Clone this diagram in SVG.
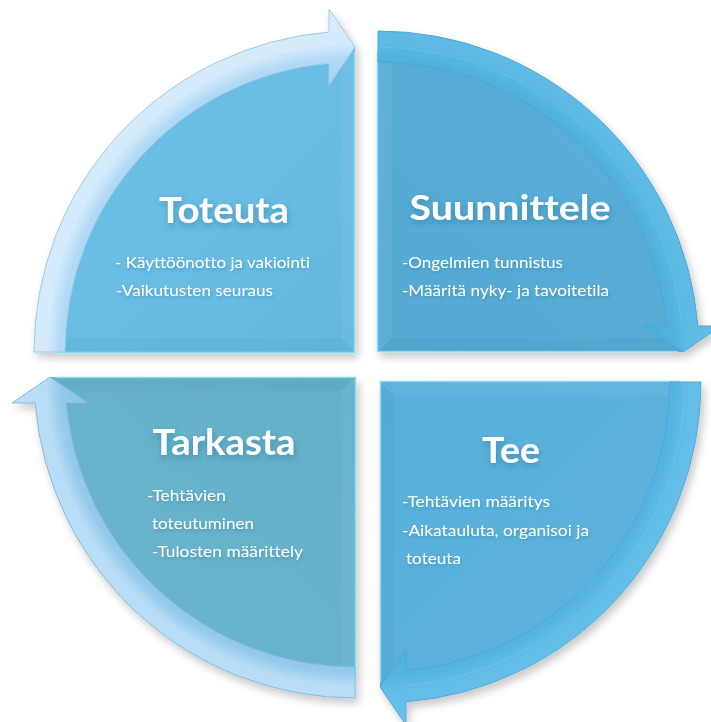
<svg xmlns="http://www.w3.org/2000/svg" width="711" height="722" viewBox="0 0 711 722">
  <style>
    text { font-variant-ligatures: none; }
    .title { font-family: Lato, "Open Sans", "Liberation Sans", sans-serif; font-weight: 700; fill: #ffffff; filter: url(#textShadow); }
    .body { font-family: Lato, "Open Sans", "Liberation Sans", sans-serif; font-size: 16px; fill: #ffffff; filter: url(#textShadowSoft); }
    .edge { fill: none; stroke: #86daf6; stroke-width: 1.5; }
    .lite { fill: #ffffff; fill-opacity: 0.05; }
    .dark { fill: #000000; fill-opacity: 0.025; }
    .bandEdge { fill: none; stroke-width: 1; stroke-opacity: 0.6; }
  </style>
  <defs>
    <filter id="shadow" x="-10%" y="-10%" width="130%" height="130%">
      <feDropShadow dx="3" dy="5" stdDeviation="4" flood-color="#000000" flood-opacity="0.22"/>
    </filter>
    <filter id="textShadow" x="-10%" y="-20%" width="130%" height="160%">
      <feDropShadow dx="1" dy="3" stdDeviation="3" flood-color="#1b4d6b" flood-opacity="0.35"/>
    </filter>
    <filter id="textShadowSoft" x="-10%" y="-30%" width="130%" height="180%">
      <feDropShadow dx="1" dy="2" stdDeviation="1.5" flood-color="#1b4d6b" flood-opacity="0.25"/>
    </filter>

    <!-- quarter disc, corner at origin, opening toward upper-left -->
    <path id="sector" d="M0,0 L-305,0 A305,305 0 0 1 0,-305 Z"/>
    <!-- bevel strips along the two straight edges -->
    <path id="stripV" d="M0,0 L0,-300 L-14,-299.7 L-14,-14 Z"/>
    <path id="stripH" d="M0,0 L-14,-14 L-299.7,-14 L-300,0 Z"/>
    <path id="edges" d="M-300,0.5 L-0.5,0.5 L-0.5,-300"/>
    <!-- curved arrow band ending in a head at the top -->
    <path id="band" d="M-321,0 A321,321 0 0 1 -26,-319.9 L-26,-343 L0,-305 L-26,-267 L-26,-288.8 A290,290 0 0 0 -290,0 Z"/>
    <path id="bandMid" d="M-305,0 A305,305 0 0 1 -26,-303.9"/>

    <radialGradient id="bandTL" cx="0" cy="0" r="343" gradientUnits="userSpaceOnUse">
      <stop offset="0.78" stop-color="#a6d3f1"/>
      <stop offset="0.86" stop-color="#b2daf4"/>
      <stop offset="0.90" stop-color="#d6ebfb"/>
      <stop offset="1" stop-color="#d6ebfb"/>
    </radialGradient>
    <radialGradient id="bandTR" cx="0" cy="0" r="343" gradientUnits="userSpaceOnUse">
      <stop offset="0.78" stop-color="#4aaedc"/>
      <stop offset="0.86" stop-color="#52b2de"/>
      <stop offset="0.90" stop-color="#5cbae5"/>
      <stop offset="1" stop-color="#63bde6"/>
    </radialGradient>
    <radialGradient id="bandBR" cx="0" cy="0" r="343" gradientUnits="userSpaceOnUse">
      <stop offset="0.78" stop-color="#4eb0de"/>
      <stop offset="0.86" stop-color="#56b5e2"/>
      <stop offset="0.90" stop-color="#62bde8"/>
      <stop offset="1" stop-color="#6ac1ea"/>
    </radialGradient>
    <radialGradient id="bandBL" cx="0" cy="0" r="343" gradientUnits="userSpaceOnUse">
      <stop offset="0.78" stop-color="#86c2e6"/>
      <stop offset="0.86" stop-color="#94caec"/>
      <stop offset="0.90" stop-color="#b7dcf6"/>
      <stop offset="1" stop-color="#bde0f8"/>
    </radialGradient>

    <linearGradient id="fillTL" x1="0" y1="0" x2="1" y2="1">
      <stop offset="0" stop-color="#6fc1e6"/>
      <stop offset="1" stop-color="#64b8df"/>
    </linearGradient>
    <linearGradient id="fillTR" x1="0" y1="0" x2="1" y2="1">
      <stop offset="0" stop-color="#5cafd8"/>
      <stop offset="1" stop-color="#55a9d3"/>
    </linearGradient>
    <linearGradient id="fillBR" x1="0" y1="0" x2="1" y2="1">
      <stop offset="0" stop-color="#5db4de"/>
      <stop offset="1" stop-color="#58b0db"/>
    </linearGradient>
    <linearGradient id="fillBL" x1="0" y1="0" x2="1" y2="1">
      <stop offset="0" stop-color="#6ab6ce"/>
      <stop offset="1" stop-color="#63b0c9"/>
    </linearGradient>
  </defs>

  <rect width="711" height="722" fill="#ffffff"/>

  <!-- Toteuta (top-left) -->
  <g id="toteuta">
    <g filter="url(#shadow)">
      <g transform="translate(355,352)">
        <use href="#sector" fill="url(#fillTL)"/>
        <use href="#stripV" class="lite"/>
        <use href="#stripH" class="dark"/>
        <use href="#edges" class="edge"/>
        <use href="#band" fill="url(#bandTL)" stroke="#9ccbea" stroke-width="1"/>
        <use href="#bandMid" class="bandEdge" stroke="#c4e2f8"/>
      </g>
    </g>
    <text class="title" x="224" y="223" font-size="37" text-anchor="middle" textLength="130" lengthAdjust="spacingAndGlyphs">Toteuta</text>
    <text class="body" x="115" y="268" textLength="195" lengthAdjust="spacingAndGlyphs">- Käyttöönotto ja vakiointi</text>
    <text class="body" x="116" y="296" textLength="157" lengthAdjust="spacingAndGlyphs">-Vaikutusten seuraus</text>
  </g>

  <!-- Suunnittele (top-right) -->
  <g id="suunnittele">
    <g filter="url(#shadow)">
      <g transform="translate(378,352) rotate(90)">
        <use href="#sector" fill="url(#fillTR)"/>
        <use href="#stripV" class="dark"/>
        <use href="#stripH" class="lite"/>
        <use href="#edges" class="edge"/>
        <use href="#band" fill="url(#bandTR)" stroke="#4aa9d6" stroke-width="1"/>
        <use href="#bandMid" class="bandEdge" stroke="#6cc4ec"/>
      </g>
    </g>
    <text class="title" x="510" y="220" font-size="35" text-anchor="middle" textLength="201" lengthAdjust="spacingAndGlyphs">Suunnittele</text>
    <text class="body" x="402" y="268" textLength="161" lengthAdjust="spacingAndGlyphs">-Ongelmien tunnistus</text>
    <text class="body" x="402" y="296" textLength="207" lengthAdjust="spacingAndGlyphs">-Määritä nyky- ja tavoitetila</text>
  </g>

  <!-- Tee (bottom-right) -->
  <g id="tee">
    <g filter="url(#shadow)">
      <g transform="translate(380,382) rotate(180)">
        <use href="#sector" fill="url(#fillBR)"/>
        <use href="#stripV" class="dark"/>
        <use href="#stripH" class="lite"/>
        <use href="#edges" class="edge"/>
        <use href="#band" fill="url(#bandBR)" stroke="#4eaad8" stroke-width="1"/>
        <use href="#bandMid" class="bandEdge" stroke="#74c8ee"/>
      </g>
    </g>
    <text class="title" x="511" y="463" font-size="36" text-anchor="middle" textLength="58" lengthAdjust="spacingAndGlyphs">Tee</text>
    <text class="body" x="402" y="507" textLength="148" lengthAdjust="spacingAndGlyphs">-Tehtävien määritys</text>
    <text class="body" x="402" y="536" textLength="187" lengthAdjust="spacingAndGlyphs">-Aikatauluta, organisoi ja</text>
    <text class="body" x="406" y="564" textLength="55" lengthAdjust="spacingAndGlyphs">toteuta</text>
  </g>

  <!-- Tarkasta (bottom-left) -->
  <g id="tarkasta">
    <g filter="url(#shadow)">
      <g transform="translate(355,377) rotate(270)">
        <use href="#sector" fill="url(#fillBL)"/>
        <use href="#stripV" class="dark"/>
        <use href="#stripH" class="lite"/>
        <use href="#edges" class="edge"/>
        <use href="#band" fill="url(#bandBL)" stroke="#86b9d8" stroke-width="1"/>
        <use href="#bandMid" class="bandEdge" stroke="#b0d8f2"/>
      </g>
    </g>
    <text class="title" x="224" y="455" font-size="36" text-anchor="middle" textLength="143" lengthAdjust="spacingAndGlyphs">Tarkasta</text>
    <text class="body" x="147" y="501" textLength="79" lengthAdjust="spacingAndGlyphs">-Tehtävien</text>
    <text class="body" x="152" y="529" textLength="102" lengthAdjust="spacingAndGlyphs">toteutuminen</text>
    <text class="body" x="152" y="557" textLength="151" lengthAdjust="spacingAndGlyphs">-Tulosten määrittely</text>
  </g>
</svg>
